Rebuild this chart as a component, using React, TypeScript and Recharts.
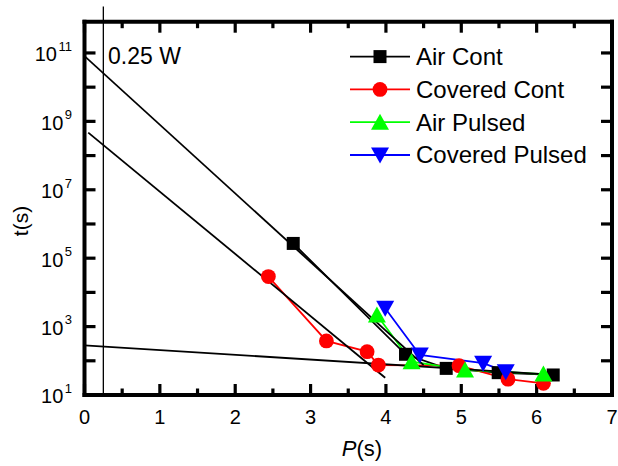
import React from 'react';
import { LineChart, Line, XAxis, YAxis, ReferenceLine } from 'recharts';

const FONT = '"Liberation Sans", Arial, Helvetica, sans-serif';

// ---- data ----
const airContP = [2.77, 4.26, 4.8, 5.49, 6.22];
const airContT = [2.7e5, 155, 60, 45, 38.5];
const coveredContP = [2.44, 3.21, 3.75, 3.9, 4.97, 5.62, 6.09];
const coveredContT = [2.9e4, 380, 185, 75, 72, 29, 22];
const airPulsedP = [3.88, 4.34, 5.05, 6.09];
const airPulsedT = [2180, 94, 54, 41];
const coveredPulsedP = [3.99, 4.45, 5.29, 5.59];
const coveredPulsedT = [3430, 148, 85, 48];

// fitted straight lines (log scale)
const fitAP = [0, 4.5];
const fitAT = [8.1e10, 75];
const fitBP = [0.05, 3.99];
const fitBT = [4.7e8, 32];
const fitCP = [0, 6.24];
const fitCT = [284, 38.5];

// vertical marker line
const powerP = 0.25;
const powerT = [10, 2.3e12];
const powerLabel = '0.25 W';

// axes
const xMajorTicks = [0, 1, 2, 3, 4, 5, 6, 7];
const xMinorTicks = [0.5, 1.5, 2.5, 3.5, 4.5, 5.5, 6.5];
const yTicks = [1e1, 1e2, 1e3, 1e4, 1e5, 1e6, 1e7, 1e8, 1e9, 1e10, 1e11];
const yLabelExps = [1, 3, 5, 7, 9, 11];
const xDomain = [0, 7];
const yDomain = [10, 8.2e11];
const xTitle = 'P';
const yTitle = 't(s)';

const toRows = (p: number[], t: number[]) => p.map((v, i) => ({ p: v, t: t[i] }));

type Shape = 'square' | 'circle' | 'up' | 'down';
const series: { name: string; color: string; shape: Shape; p: number[]; t: number[] }[] = [
  { name: 'Air Cont', color: '#000000', shape: 'square', p: airContP, t: airContT },
  { name: 'Covered Cont', color: '#FF0000', shape: 'circle', p: coveredContP, t: coveredContT },
  { name: 'Air Pulsed', color: '#00FF00', shape: 'up', p: airPulsedP, t: airPulsedT },
  { name: 'Covered Pulsed', color: '#0000FF', shape: 'down', p: coveredPulsedP, t: coveredPulsedT },
];
const fits = [
  { p: fitAP, t: fitAT },
  { p: fitBP, t: fitBT },
  { p: fitCP, t: fitCT },
];

const marker = (shape: Shape, color: string, cx: number, cy: number, key?: string) => {
  if (shape === 'square') return <rect key={key} x={cx - 6.5} y={cy - 6.5} width={13} height={13} fill={color} />;
  if (shape === 'circle') return <circle key={key} cx={cx} cy={cy} r={7.4} fill={color} />;
  if (shape === 'up')
    return <polygon key={key} points={`${cx},${cy - 8.5} ${cx + 9},${cy + 7.5} ${cx - 9},${cy + 7.5}`} fill={color} />;
  return <polygon key={key} points={`${cx - 9},${cy - 7.5} ${cx + 9},${cy - 7.5} ${cx},${cy + 8.5}`} fill={color} />;
};

const MAJOR = 11;
const MINOR = 6.5;
const TICK_W = 3.2;
const FRAME_W = 4;

// inward tick marks on both opposite sides, drawn as the shape of a reference line
const xTickShape = (p: any, major: boolean) => {
  const x = p.x1;
  const top = Math.min(p.y1, p.y2);
  const bottom = Math.max(p.y1, p.y2);
  const len = major ? MAJOR : MINOR;
  return (
    <g>
      <line x1={x} y1={bottom} x2={x} y2={bottom - len} stroke="#000" strokeWidth={TICK_W} />
      <line x1={x} y1={top} x2={x} y2={top + len} stroke="#000" strokeWidth={TICK_W} />
    </g>
  );
};
const yTickShape = (p: any) => {
  const y = p.y1;
  const left = Math.min(p.x1, p.x2);
  const right = Math.max(p.x1, p.x2);
  return (
    <g>
      <line x1={left} y1={y} x2={left + MAJOR} y2={y} stroke="#000" strokeWidth={TICK_W} />
      <line x1={right} y1={y} x2={right - MAJOR} y2={y} stroke="#000" strokeWidth={TICK_W} />
    </g>
  );
};

const BottomLabel = (props: any) => {
  const { x, y, payload } = props;
  return (
    <text x={x} y={y + 29} textAnchor="middle" fontSize={20} fontFamily={FONT} fill="#000">
      {payload.value}
    </text>
  );
};
const LeftLabel = (props: any) => {
  const { x, y, payload } = props;
  const e = Math.round(Math.log10(payload.value));
  if (!yLabelExps.includes(e)) return <g />;
  return (
    <text x={x - 12.5} y={y + 8.4} textAnchor="end" fontSize={20} fontFamily={FONT} fill="#000">
      <tspan>10</tspan>
      <tspan fontSize={13} dx={1.5} dy={-10.5}>
        {e}
      </tspan>
    </text>
  );
};

const xTicks = [...xMajorTicks, ...xMinorTicks].sort((a, b) => a - b);

export default function App() {
  return (
    <div style={{ position: 'absolute', left: 0, top: 0, width: 618, height: 466, background: '#fff' }}>
      <LineChart width={618} height={466} margin={{ top: 21.7, right: 6, bottom: 0, left: 0 }}>
        <XAxis
          xAxisId="b"
          dataKey="p"
          type="number"
          domain={xDomain}
          allowDataOverflow
          ticks={xMajorTicks}
          interval={0}
          tickLine={false}
          axisLine={false}
          tickSize={0}
          tickMargin={0}
          height={71}
          tick={BottomLabel}
        />
        <YAxis
          yAxisId="l"
          dataKey="t"
          type="number"
          scale="log"
          domain={yDomain}
          allowDataOverflow
          ticks={yTicks}
          interval={0}
          tickLine={false}
          axisLine={false}
          tickSize={0}
          tickMargin={0}
          width={84.5}
          tick={LeftLabel}
        />
        <ReferenceLine
          xAxisId="b"
          yAxisId="l"
          segment={[
            { x: powerP, y: powerT[0] },
            { x: powerP, y: powerT[1] },
          ]}
          ifOverflow="visible"
          stroke="#000"
          strokeWidth={1.3}
        />
        {series.map((s) => (
          <Line
            key={s.name}
            xAxisId="b"
            yAxisId="l"
            data={toRows(s.p, s.t)}
            dataKey="t"
            name={s.name}
            type="linear"
            stroke={s.color}
            strokeWidth={1.8}
            isAnimationActive={false}
            dot={(d: any) => marker(s.shape, s.color, d.cx, d.cy, `${s.name}-${d.index}`)}
            activeDot={false}
          />
        ))}
        {fits.map((f, i) => (
          <Line
            key={`fit-${i}`}
            xAxisId="b"
            yAxisId="l"
            data={toRows(f.p, f.t)}
            dataKey="t"
            type="linear"
            stroke="#000"
            strokeWidth={1.8}
            dot={false}
            activeDot={false}
            isAnimationActive={false}
            legendType="none"
          />
        ))}
        {xTicks.map((v) => (
          <ReferenceLine
            key={`xt-${v}`}
            xAxisId="b"
            yAxisId="l"
            x={v}
            ifOverflow="visible"
            shape={(p: any) => xTickShape(p, Number.isInteger(v))}
          />
        ))}
        {yTicks.map((v) => (
          <ReferenceLine key={`yt-${v}`} xAxisId="b" yAxisId="l" y={v} ifOverflow="visible" shape={yTickShape} />
        ))}
        {xDomain.map((v) => (
          <ReferenceLine
            key={`fx-${v}`}
            xAxisId="b"
            yAxisId="l"
            x={v}
            ifOverflow="visible"
            stroke="#000"
            strokeWidth={FRAME_W}
            strokeLinecap="square"
          />
        ))}
        {yDomain.map((v) => (
          <ReferenceLine
            key={`fy-${v}`}
            xAxisId="b"
            yAxisId="l"
            y={v}
            ifOverflow="visible"
            stroke="#000"
            strokeWidth={FRAME_W}
            strokeLinecap="square"
          />
        ))}
      </LineChart>
      <svg
        width={618}
        height={466}
        style={{ position: 'absolute', left: 0, top: 0, pointerEvents: 'none' }}
        fontFamily={FONT}
      >
        <text x={108} y={64} fontSize={23} fill="#000">
          {powerLabel}
        </text>
        {series.map((s, i) => {
          const base = 65 + i * 32.8;
          const cy = base - 8.4;
          return (
            <g key={s.name}>
              <line x1={350} y1={cy} x2={410} y2={cy} stroke={s.color} strokeWidth={1.8} />
              {marker(s.shape, s.color, 380, cy)}
              <text x={416} y={base} fontSize={24} fill="#000">
                {s.name}
              </text>
            </g>
          );
        })}
        <text x={28} y={221} fontSize={21} fill="#000" textAnchor="middle" transform="rotate(-90 28 221)">
          {yTitle}
        </text>
        <text x={362} y={456} fontSize={22} fill="#000" textAnchor="middle">
          <tspan fontStyle="italic">{xTitle}</tspan>
          <tspan>(s)</tspan>
        </text>
      </svg>
    </div>
  );
}
